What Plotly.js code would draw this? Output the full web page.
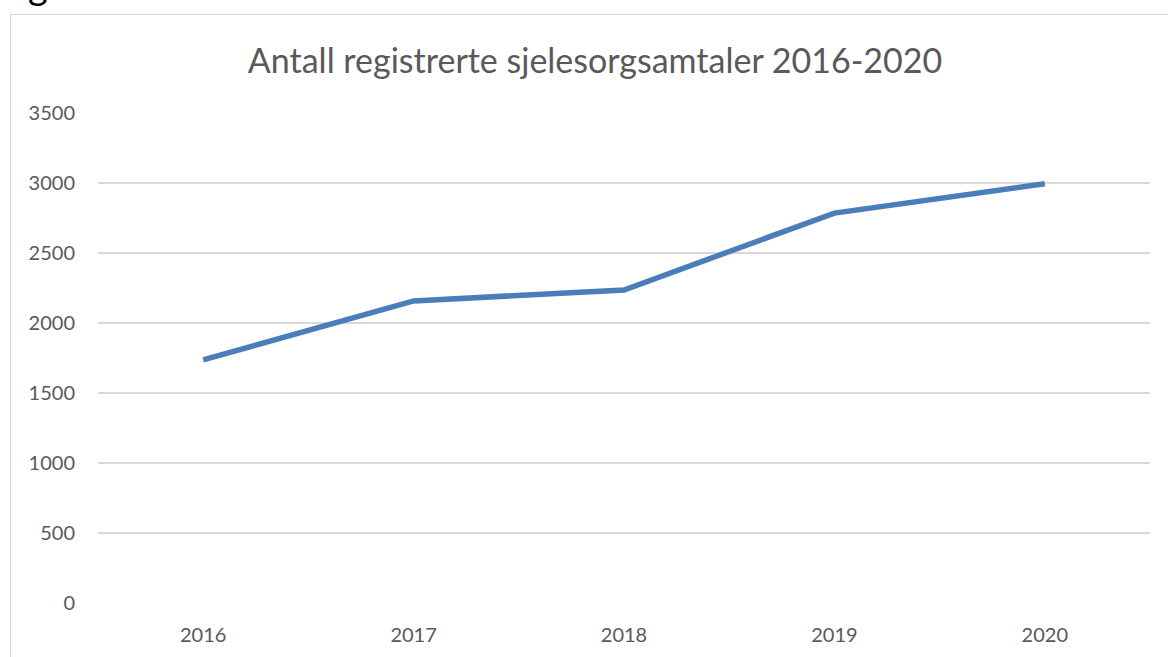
<!DOCTYPE html>
<html>
<head>
<meta charset="utf-8">
<script src="https://cdn.plot.ly/plotly-3.0.1.min.js"></script>
<style>
  html, body { margin: 0; padding: 0; background: #fff; overflow: hidden; }
  #frame { position: absolute; left: 10px; top: 14px; width: 1170px; height: 660px;
           border-left: 1px solid #d9d9d9; border-top: 1px solid #d9d9d9; }
  #chart { width: 1170px; height: 650px; }
  #cut { position: absolute; left: 28px; top: -35px; font-family: Lato, sans-serif; font-size: 38px; line-height: 38px; color: #000; }
</style>
</head>
<body>
<div id="cut">g</div>
<div id="frame"><div id="chart"></div></div>
<script>
const years = ['2016', '2017', '2018', '2019', '2020'];
const samtaler = [1736, 2158, 2236, 2785, 2995];
const yTicks = [0, 500, 1000, 1500, 2000, 2500, 3000, 3500];
const chartTitle = 'Antall registrerte sjelesorgsamtaler 2016-2020';

const trace = {
  x: years,
  y: samtaler,
  type: 'scatter',
  mode: 'lines',
  line: { color: '#4a7ebb', width: 5.5 },
  hoverinfo: 'x+y'
};

const layout = {
  width: 1170,
  height: 650,
  margin: { l: 87, r: 31, t: 98, b: 62 },
  paper_bgcolor: '#ffffff',
  plot_bgcolor: '#ffffff',
  showlegend: false,
  font: { family: 'Lato, sans-serif', color: '#595959', size: 20 },
  title: {
    text: chartTitle,
    font: { family: 'Lato, sans-serif', size: 34, color: '#595959' },
    x: 584 / 1170, xref: 'container', xanchor: 'center',
    y: 1 - 46 / 650, yref: 'container', yanchor: 'middle'
  },
  xaxis: {
    type: 'category',
    range: [-0.5, 4.5],
    showgrid: false,
    zeroline: false,
    showline: false,
    ticks: '',
    ticklabelstandoff: 18,
    tickfont: { size: 20, color: '#595959' }
  },
  yaxis: {
    range: [0, 3500],
    tickvals: yTicks,
    ticktext: yTicks.map(String),
    showgrid: true,
    gridcolor: '#d9d9d9',
    gridwidth: 1.5,
    zeroline: false,
    showline: false,
    ticks: '',
    ticklabelstandoff: 22,
    tickfont: { size: 20, color: '#595959' }
  }
};

Plotly.newPlot('chart', [trace], layout, { displayModeBar: false });
</script>
</body>
</html>
